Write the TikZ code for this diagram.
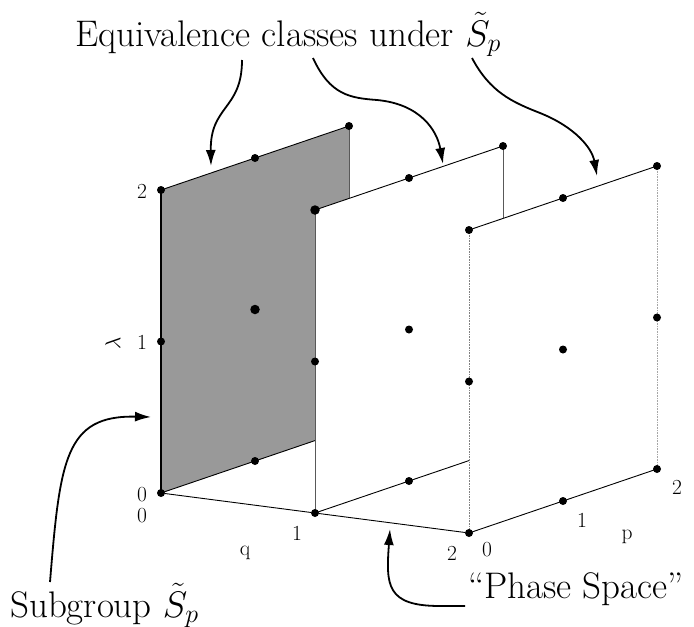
\documentclass[tikz,border=0pt]{standalone}
\usepackage{fix-cm}
\usepackage{fontspec}
\usetikzlibrary{arrows.meta}
\tikzset{
  dotpt/.style={circle,fill=black,draw=none,inner sep=0pt,minimum size=8pt},
  bigdot/.style={dotpt,minimum size=9.5pt},
  bigtext/.style={font=\fontsize{37}{42}\selectfont, inner sep=0pt},
  axlab/.style={font=\fontsize{21.5}{25}\selectfont, inner sep=0pt},
  callout/.style={line width=1.8pt, -{Latex[length=16pt,width=10pt]}},
  edgeblk/.style={line width=0.9pt, black},
  edgethin/.style={line width=0.6pt, black!65},
  edgedot/.style={line width=0.6pt, black!50, densely dotted},
}
\begin{document}
\begin{tikzpicture}[x=1pt,y=-1pt]
\useasboundingbox (0,0) rectangle (694,627);
\begin{scope}[shift={(161pt,-493pt)}, x={(94pt,32pt)}, y={(0pt,151.5pt)}, z={(154pt,-20pt)}]
  % plane q = 0 (shaded)
  \fill[black!40] (0,0,0) -- (0,2,0) -- (2,2,0) -- (2,0,0) -- cycle;
  \draw[line width=1.5pt] (0,0,0) -- (0,2,0);
  \draw[edgeblk] (0,2,0) -- (2,2,0);
  \draw[edgethin] (2,2,0) -- (2,0,0);
  \draw[edgeblk] (0,0,0) -- (2,0,0);
  \foreach \p in {0,1,2}{\foreach \l in {0,1,2}{\node[dotpt] (d\p\l0) at (\p,\l,0) {};}}
  \node[bigdot] (c110) at (1,1,0) {};
  % plane q = 1
  \fill[white] (0,0,1) -- (0,2,1) -- (2,2,1) -- (2,0,1) -- cycle;
  \draw[edgeblk] (0,2,1) -- (2,2,1);
  \draw[edgethin] (0,0,1) -- (0,2,1);
  \draw[edgethin] (2,2,1) -- (2,0,1);
  \draw[edgeblk] (0,0,1) -- (2,0,1);
  \foreach \p in {0,1,2}{\foreach \l in {0,1,2}{\node[dotpt] (d\p\l1) at (\p,\l,1) {};}}
  \node[bigdot] (c021) at (0,2,1) {};
  % plane q = 2
  \fill[white] (0,0,2) -- (0,2,2) -- (2,2,2) -- (2,0,2) -- cycle;
  \draw[edgeblk] (0,2,2) -- (2,2,2);
  \draw[edgedot] (0,0,2) -- (0,2,2);
  \draw[edgedot, black!35] (2,2,2) -- (2,0,2);
  \draw[edgeblk] (0,0,2) -- (2,0,2);
  \foreach \p in {0,1,2}{\foreach \l in {0,1,2}{\node[dotpt] (d\p\l2) at (\p,\l,2) {};}}
  % q axis
  \draw[edgeblk] (d000) -- (d001);
  \draw[edgeblk] (d001) -- (d002);
\end{scope}
% axis labels
\node[axlab] (l2) at (142,191) {2};
\node[axlab] (l1) at (142,342) {1};
\node[axlab] (l0) at (142,495) {0};
\node[axlab, rotate=90] (lam) at (113,343) {$\lambda$};
\node[axlab] (q0) at (142,516) {0};
\node[axlab] (q1) at (297,533) {1};
\node[axlab] (q2) at (452,553) {2};
\node[axlab] (ql) at (245,553) {q};
\node[axlab] (p0) at (487,550) {0};
\node[axlab] (p1) at (582,520) {1};
\node[axlab] (p2) at (677,487) {2};
\node[axlab] (pl) at (627,537) {p};
% texts
\node[bigtext, anchor=base west] (eq) at (75,46) {Equivalence classes under $\tilde{S}_p$};
\node[bigtext, anchor=base west] (sub) at (10,617) {Subgroup $\tilde{S}_p$};
\node[bigtext, anchor=base west] (ps) at (468,598) {``Phase Space''};
% callout arrows
\coordinate (a1s) at (242,60);  \coordinate (a1e) at (211,166);
\coordinate (a2s) at (313,58);  \coordinate (a2e) at (443,164);
\coordinate (a3s) at (472,58);  \coordinate (a3e) at (597,176);
\coordinate (a4s) at (50,582);  \coordinate (a4e) at (151,417);
\coordinate (a5s) at (465,606); \coordinate (a5e) at (390,529);
\draw[callout] (a1s) .. controls (242,110) and (210,105) .. (a1e);
\draw[callout] (a2s) .. controls (330,95) and (350,98) .. (377,100) .. controls (420,104) and (437,130) .. (a2e);
\draw[callout] (a3s) .. controls (490,92) and (512,102) .. (540,113) .. controls (575,127) and (592,148) .. (a3e);
\draw[callout] (a4s) .. controls (60,460) and (65,415) .. (a4e);
\draw[callout] (a5s) -- (440,606) .. controls (386,606) and (386,585) .. (a5e);
\end{tikzpicture}
\end{document}
